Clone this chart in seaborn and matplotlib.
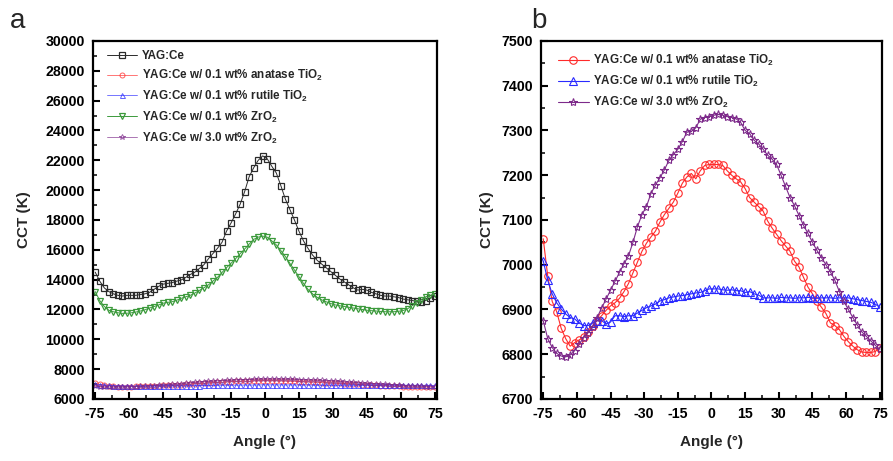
import numpy as np
import pandas as pd
import matplotlib
matplotlib.use("Agg")
import matplotlib.pyplot as plt
import seaborn as sns

# ---------------- data ----------------
angles = [-75, -73, -71, -69, -67, -65, -63, -61, -59, -57, -55, -53, -51, -49, -47, -45,
          -43, -41, -39, -37, -35, -33, -31, -29, -27, -25, -23, -21, -19, -17, -15, -13,
          -11, -9, -7, -5, -3, -1, 1, 3, 5, 7, 9, 11, 13, 15, 17, 19, 21, 23, 25, 27, 29,
          31, 33, 35, 37, 39, 41, 43, 45, 47, 49, 51, 53, 55, 57, 59, 61, 63, 65, 67, 69,
          71, 73, 75]

yag_ce = [14500, 13900, 13450, 13200, 13050, 12950, 12900, 12950, 12950, 12950, 13000, 13050,
          13150, 13350, 13550, 13700, 13750, 13800, 13900, 13980, 14150, 14350, 14500, 14750,
          15000, 15400, 15750, 16100, 16500, 17250, 17800, 18400, 19050, 19900, 20900, 21500,
          22000, 22300, 22100, 21600, 21150, 20300, 19400, 18700, 18000, 17250, 16600, 16100,
          15650, 15300, 15050, 14800, 14550, 14300, 14050, 13850, 13650, 13450, 13300, 13350,
          13300, 13150, 13050, 12950, 12900, 12900, 12850, 12800, 12700, 12650, 12600, 12550,
          12520, 12600, 12750, 12900]

zro2_01 = [13200, 12600, 12200, 11950, 11850, 11780, 11740, 11750, 11780, 11830, 11900, 11980,
           12100, 12200, 12300, 12420, 12480, 12520, 12620, 12750, 12850, 12950, 13100, 13280,
           13450, 13650, 13900, 14150, 14480, 14800, 15100, 15400, 15740, 16050, 16380, 16700,
           16850, 16920, 16850, 16600, 16330, 15950, 15550, 15100, 14650, 14200, 13750, 13350,
           13050, 12820, 12650, 12520, 12400, 12310, 12250, 12200, 12150, 12100, 12050, 12000,
           11950, 11920, 11900, 11870, 11850, 11850, 11850, 11880, 11930, 12050, 12250, 12450,
           12640, 12850, 12950, 13050]

anatase_01 = [7058, 6975, 6918, 6895, 6858, 6835, 6818, 6826, 6832, 6838, 6849, 6862, 6875,
              6886, 6898, 6908, 6915, 6925, 6940, 6958, 6982, 7006, 7030, 7048, 7062, 7075,
              7095, 7112, 7126, 7140, 7160, 7182, 7196, 7204, 7192, 7210, 7222, 7224, 7224,
              7224, 7222, 7210, 7200, 7192, 7185, 7170, 7150, 7140, 7130, 7120, 7098, 7082,
              7068, 7054, 7042, 7030, 7008, 6995, 6972, 6950, 6935, 6918, 6905, 6891, 6870,
              6864, 6855, 6840, 6828, 6818, 6810, 6805, 6804, 6804, 6806, 6815]

rutile_01 = [7009, 6965, 6935, 6915, 6901, 6890, 6882, 6879, 6870, 6864, 6864, 6870, 6875,
             6875, 6868, 6872, 6886, 6886, 6884, 6886, 6886, 6892, 6898, 6904, 6908, 6912,
             6919, 6922, 6926, 6928, 6930, 6931, 6933, 6935, 6937, 6938, 6942, 6946, 6946,
             6946, 6944, 6943, 6944, 6942, 6942, 6938, 6940, 6935, 6932, 6926, 6926, 6926,
             6925, 6927, 6926, 6926, 6925, 6926, 6926, 6927, 6926, 6925, 6926, 6926, 6926,
             6925, 6926, 6926, 6926, 6924, 6922, 6920, 6918, 6916, 6912, 6905]

zro2_30 = [6875, 6835, 6815, 6802, 6796, 6794, 6798, 6808, 6822, 6837, 6848, 6860, 6882,
           6903, 6923, 6943, 6963, 6983, 7002, 7020, 7050, 7085, 7112, 7130, 7159, 7178,
           7194, 7212, 7233, 7246, 7258, 7275, 7296, 7298, 7306, 7325, 7329, 7331, 7334,
           7336, 7334, 7331, 7329, 7326, 7318, 7300, 7293, 7278, 7270, 7258, 7245, 7236,
           7224, 7200, 7175, 7150, 7132, 7110, 7088, 7070, 7050, 7032, 7016, 7000, 6984,
           6965, 6940, 6918, 6900, 6882, 6865, 6850, 6840, 6830, 6820, 6811]

labels = ["YAG:Ce",
          "YAG:Ce w/ 0.1 wt% anatase TiO$_2$",
          "YAG:Ce w/ 0.1 wt% rutile TiO$_2$",
          "YAG:Ce w/ 0.1 wt% ZrO$_2$",
          "YAG:Ce w/ 3.0 wt% ZrO$_2$"]

x_ticks = [-75, -60, -45, -30, -15, 0, 15, 30, 45, 60, 75]
ya_ticks = [6000, 8000, 10000, 12000, 14000, 16000, 18000, 20000, 22000, 24000, 26000, 28000, 30000]
yb_ticks = [6700, 6800, 6900, 7000, 7100, 7200, 7300, 7400, 7500]

# ---------------- style ----------------
sns.set_theme(style="ticks")
plt.rcParams["font.family"] = ["Liberation Sans", "DejaVu Sans"]
plt.rcParams["font.weight"] = "bold"
plt.rcParams["mathtext.fontset"] = "custom"
plt.rcParams["mathtext.rm"] = "Liberation Sans:bold"
plt.rcParams["mathtext.default"] = "rm"

fig = plt.figure(figsize=(8.93, 4.61), dpi=100)
axa = fig.add_axes([0.1041, 0.1345, 0.3853, 0.7766])
axb = fig.add_axes([0.6058, 0.1345, 0.3819, 0.7766])

col_black = "#2b2b2b"
col_red = "#ff2a2a"
col_blue = "#2a2aff"
col_green = "#3c9a3c"
col_purple = "#7d2a8a"

def draw(ax, y, color, marker, ms, label, lw=0.8, alpha=1.0, mew=0.9):
    sns.lineplot(x=angles, y=y, ax=ax, color=color, marker=marker, markersize=ms,
                 markerfacecolor="none", markeredgecolor=color, markeredgewidth=mew,
                 linewidth=lw, label=label, alpha=alpha, sort=False, errorbar=None)

# panel a
draw(axa, yag_ce, col_black, "s", 4.6, labels[0], lw=0.7)
draw(axa, anatase_01, col_red, "o", 3.6, labels[1], lw=0.6, alpha=0.75, mew=0.7)
draw(axa, rutile_01, col_blue, "^", 3.6, labels[2], lw=0.6, alpha=0.75, mew=0.7)
draw(axa, zro2_01, col_green, "v", 4.6, labels[3], lw=0.7)
draw(axa, zro2_30, col_purple, "*", 4.2, labels[4], lw=0.6, alpha=0.75, mew=0.7)

# panel b
draw(axb, anatase_01, col_red, "o", 5.4, labels[1], lw=0.8, mew=0.8)
draw(axb, rutile_01, col_blue, "^", 5.4, labels[2], lw=0.8, mew=0.8)
draw(axb, zro2_30, col_purple, "*", 6.0, labels[4], lw=0.8, mew=0.8)

for ax, yt, ylim, ymin, ylp in [(axa, ya_ticks, (6000, 30000), 1000, 10),
                                (axb, yb_ticks, (6700, 7500), 50, 5)]:
    ax.set_xlim(-76, 76)
    ax.set_ylim(*ylim)
    ax.set_xticks(x_ticks)
    ax.set_xticklabels([str(v) for v in x_ticks])
    ax.set_yticks(yt)
    ax.set_yticklabels([str(v) for v in yt])
    ax.set_xticks(np.arange(-67.5, 75, 15), minor=True)
    ax.set_yticks(np.arange(ylim[0] + ymin, ylim[1], 2 * ymin), minor=True)
    ax.tick_params(which="major", direction="in", length=5, width=1.5, labelsize=10.2,
                   pad=6, colors="black")
    ax.tick_params(which="minor", direction="in", length=3, width=1.3)
    for lab in ax.get_xticklabels() + ax.get_yticklabels():
        lab.set_fontweight("bold")
    for sp in ax.spines.values():
        sp.set_visible(True)
        sp.set_linewidth(1.6)
        sp.set_color("black")
    ax.set_xlabel("Angle (°)", fontsize=11, fontweight="bold", labelpad=10)
    ax.set_ylabel("CCT (K)", fontsize=11, fontweight="bold", labelpad=ylp)
    ax.grid(False)

axa.legend(loc="upper left", bbox_to_anchor=(0.02, 0.995), frameon=False,
           handlelength=2.6, handletextpad=0.4, labelspacing=0.5, borderaxespad=0.2,
           prop={"weight": "bold", "size": 8.4})
axb.legend(loc="upper left", bbox_to_anchor=(0.03, 0.985), frameon=False,
           handlelength=2.6, handletextpad=0.4, labelspacing=0.5, borderaxespad=0.2,
           prop={"weight": "bold", "size": 8.4})

fig.text(10 / 893, 1 - 21 / 461, "a", fontsize=20, fontweight="normal", va="center", ha="left")
fig.text(531 / 893, 1 - 21 / 461, "b", fontsize=20, fontweight="normal", va="center", ha="left")

fig.savefig("out.png", dpi=100)
